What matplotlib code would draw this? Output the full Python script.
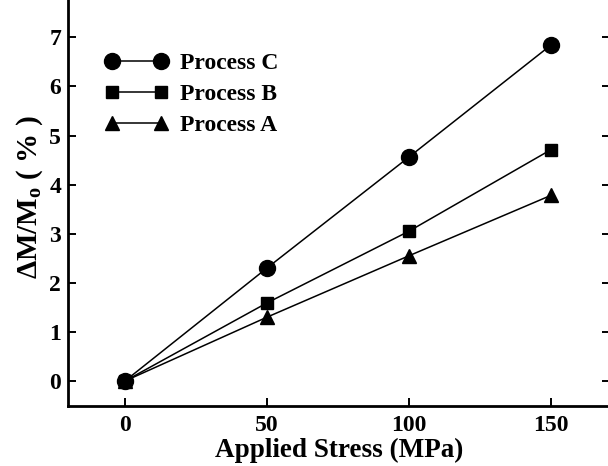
import matplotlib
matplotlib.use('Agg')
import matplotlib.pyplot as plt

plt.rcParams['font.family'] = ['Liberation Serif', 'DejaVu Serif']
plt.rcParams['font.weight'] = 'bold'
plt.rcParams['mathtext.fontset'] = 'custom'
plt.rcParams['mathtext.rm'] = 'Liberation Serif:bold'
plt.rcParams['mathtext.bf'] = 'Liberation Serif:bold'
plt.rcParams['mathtext.it'] = 'Liberation Serif:bold'

# data
stress = [0, 50, 100, 150]
process_c = [0, 2.30, 4.56, 6.84]
process_b = [0, 1.59, 3.05, 4.71]
process_a = [0, 1.30, 2.55, 3.78]

xticks = [0, 50, 100, 150]
yticks = [0, 1, 2, 3, 4, 5, 6, 7]

fig = plt.figure(figsize=(6.08, 4.66), dpi=100)
ax = fig.add_axes([0.112, 0.1296, 0.892, 0.8957])

# C drawn last so its circle sits on top at the origin
la, = ax.plot(stress, process_a, color='black', lw=1.1, marker='^', ms=9.5, label='Process A')
lb, = ax.plot(stress, process_b, color='black', lw=1.1, marker='s', ms=8, label='Process B')
lc, = ax.plot(stress, process_c, color='black', lw=1.1, marker='o', ms=11.5, label='Process C')

ax.set_xlim(-20, 171)
ax.set_ylim(-0.5, 8)
ax.set_xticks(xticks)
ax.set_yticks(yticks)
ax.tick_params(direction='in', length=6, width=1.4, labelsize=17,
               right=True, top=False)
ax.tick_params(axis='x', pad=7)
ax.tick_params(axis='y', pad=5)
for s in ax.spines.values():
    s.set_linewidth(2)

ax.set_xlabel('Applied Stress (MPa)', fontsize=19.5, fontweight='bold', labelpad=1)
ax.set_ylabel(r'$\Delta$M/M$_{\rm o}$ ( % )', fontsize=21, fontweight='bold', labelpad=3)

leg = ax.legend([lc, lb, la], ['Process C', 'Process B', 'Process A'],
                loc='upper left', bbox_to_anchor=(0.05, 0.868), numpoints=2,
                handlelength=2.7, handletextpad=0.5, labelspacing=0.4,
                frameon=False, prop={'size': 17, 'weight': 'bold'}, borderaxespad=0)

fig.savefig('out.png', dpi=100)
